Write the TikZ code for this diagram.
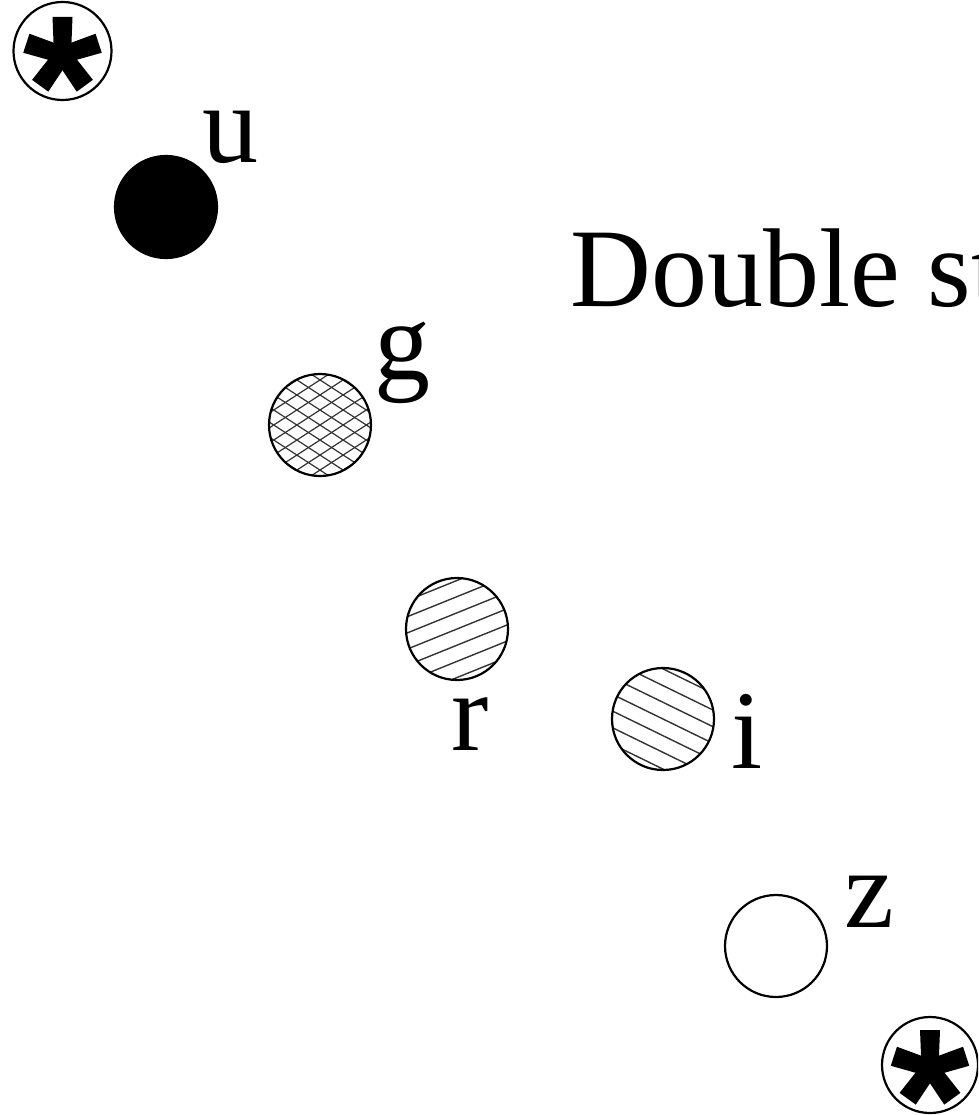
\documentclass[tikz,border=0pt]{standalone}
\usepackage{fontspec}
\setmainfont{Liberation Serif}
\newcommand{\hatchset}[3]{% angle, spacing, width
  \foreach \k in {-6,...,6}
    \draw[hatchline,line width=#3]
      ($(path picture bounding box.center)+({-80*cos(#1)+\k*#2*sin(#1)},{80*sin(#1)+\k*#2*cos(#1)})$)
      -- ($(path picture bounding box.center)+({80*cos(#1)+\k*#2*sin(#1)},{-80*sin(#1)+\k*#2*cos(#1)})$);}
\usetikzlibrary{calc}
\begin{document}
\begin{tikzpicture}[x=1pt,y=-1pt,
  outline/.style={line width=2.2pt},
  hatchline/.style={black!80},
  dot/.style={circle, outline, draw, minimum size=102pt, inner sep=0pt},
  lbl/.style={anchor=base west, inner sep=0pt, font=\fontsize{112}{134}\selectfont},
  hatchr/.style={path picture={\hatchset{22}{15}{1.4pt}}},
  hatchi/.style={path picture={\hatchset{-26}{15}{1.4pt}}},
  hatchg/.style={path picture={\hatchset{33}{12.6}{1.2pt}\hatchset{-33}{12.6}{1.2pt}}},
  starcirc/.style={circle, outline, draw, inner sep=0pt},
  pics/asterisk/.style={code={
      \foreach \a in {0,72,144,216,288}
        \fill[rotate=\a] (-8.5,0) -- (8.5,0) -- (10,-38) -- (-10,-38) -- cycle;}}
]
\useasboundingbox (0,0) rectangle (978,1115);
\clip (0,0) rectangle (978,1115);

% stars
\node[starcirc, minimum size=98pt] (s1) at (62.5,51) {};
\pic at ($(s1.center)+(0,4)$) {asterisk};
\node[starcirc, minimum size=96pt] (s2) at (930,1065) {};
\pic at ($(s2.center)+(0,3)$) {asterisk};

% title
\node[lbl] (title) at (570,306) {Double stars};

% dots
\node[dot, fill=black] (u) at (166,207) {};
\node[lbl] (ul) at (202,163) {u};

\node[dot, hatchg] (g) at (320,425) {};
\node[lbl] (gl) at (374,379) {g};

\node[dot, hatchr] (r) at (457,629) {};
\node[lbl] (rl) at (451,750) {r};

\node[dot, hatchi] (i) at (663,719) {};
\node[lbl] (il) at (731,768) {i};

\node[dot] (z) at (776,946) {};
\node[lbl] (zl) at (844,927) {z};
\end{tikzpicture}
\end{document}
